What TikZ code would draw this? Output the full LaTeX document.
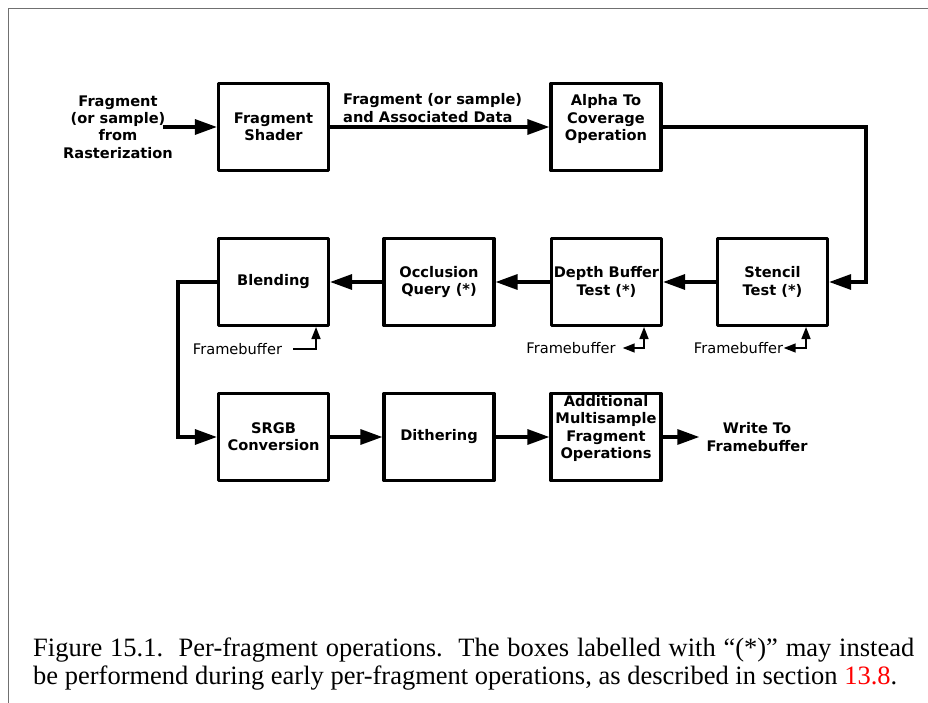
\documentclass[tikz,border=0pt]{standalone}
\usepackage{fontspec}
\newfontfamily\dejavu{DejaVu Sans}
\newfontfamily\capfont{Liberation Serif}
\usetikzlibrary{arrows.meta}
\definecolor{framegray}{RGB}{112,112,112}
\newcommand\bxfont{\dejavu\bfseries\fontsize{14.6}{17.2}\selectfont}
\newcommand\rgfont{\dejavu\fontsize{14.6}{17.2}\selectfont}
\newcommand\cpfont{\capfont\fontsize{26.5}{28}\selectfont}
\begin{document}
\begin{tikzpicture}[x=1pt,y=-1pt,
  box/.style={draw,line width=3.2pt,line join=round,minimum width=110pt,minimum height=87pt,inner sep=0pt,align=center,font=\bxfont},
  txt/.style={font=\bxfont,align=center,inner sep=0pt},
  fbtxt/.style={font=\rgfont,inner sep=0pt},
  arr/.style={line width=3.2pt,-{Triangle[length=22pt,width=15pt]}},
  farr/.style={line width=1.6pt,-{Triangle[length=12pt,width=9pt]}},
  fbarr/.style={line width=1.6pt,{Triangle[length=12pt,width=9pt]}-{Triangle[length=12pt,width=9pt]}}
]
\useasboundingbox (0,0) rectangle (928,703);
\draw[line width=1.6pt,framegray] (928,8.5) -- (8.5,8.5) -- (8.5,703);

% row 1
\node[txt] (inlbl) at (118,127) {Fragment\\(or sample)\\from\\Rasterization};
\node[box] (shader) at (273.5,127) {Fragment\\Shader};
\node[box] (alpha) at (606,127) {};
\node[txt] (alphatxt) at (606,119) {Alpha To\\Coverage\\Operation};
\node[txt,align=left,anchor=west] (datalbl) at (343,108) {Fragment (or sample)\\and Associated Data};

% row 2
\node[box] (blend) at (273.5,282) {Blending};
\node[box] (occl) at (439,282) {Occlusion\\Query (*)};
\node[box] (depth) at (606.5,282) {Depth Buffer\\Test (*)};
\node[box] (stencil) at (772.5,282) {Stencil\\Test (*)};

% row 3
\node[box] (srgb) at (273.5,437) {SRGB\\Conversion};
\node[box] (dither) at (439,437) {Dithering};
\node[box] (addl) at (606,437) {};
\node[txt] (addltxt) at (606,428.5) {Additional\\Multisample\\Fragment\\Operations};
\node[txt,inner xsep=7pt] (write) at (757,437) {Write To\\Framebuffer};

% framebuffer labels
\node[fbtxt,inner xsep=11pt] (fb1) at (237.5,349) {Framebuffer};
\node[fbtxt,inner xsep=7pt] (fb2) at (571,348) {Framebuffer};
\node[fbtxt,inner xsep=0.5pt] (fb3) at (738.5,348) {Framebuffer};

\coordinate (instart) at (163,127);
\coordinate (turn) at (866,127);
\coordinate (bl) at (178,282);
\coordinate (k1) at (316,327);
\coordinate (k2) at (644,327);
\coordinate (k3) at (806,327);

\draw[arr] (instart) -- (shader);
\draw[arr] (shader) -- (alpha);
\draw[arr] (alpha.east) -- (turn) |- (stencil.east);
\draw[arr] (stencil) -- (depth);
\draw[arr] (depth) -- (occl);
\draw[arr] (occl) -- (blend);
\draw[arr] (blend.west) -- (bl) |- (srgb.west);
\draw[arr] (srgb) -- (dither);
\draw[arr] (dither) -- (addl);
\draw[arr] (addl) -- (write);

\draw[farr] (fb1.east) -| (k1);
\draw[fbarr] (fb2.east) -| (k2);
\draw[fbarr] (fb3.east) -| (k3);

% caption
\node[anchor=base west,inner sep=0pt,font=\cpfont] (cap1) at (33,656) {\makebox[881pt][s]{Figure 15.1.\ \ Per-fragment operations.\ \ The boxes labelled with “(*)” may instead}};
\node[anchor=base west,inner sep=0pt,font=\cpfont] (cap2) at (33,684) {be performend during early per-fragment operations, as described in section \textcolor{red}{13.8}.};
\end{tikzpicture}
\end{document}
